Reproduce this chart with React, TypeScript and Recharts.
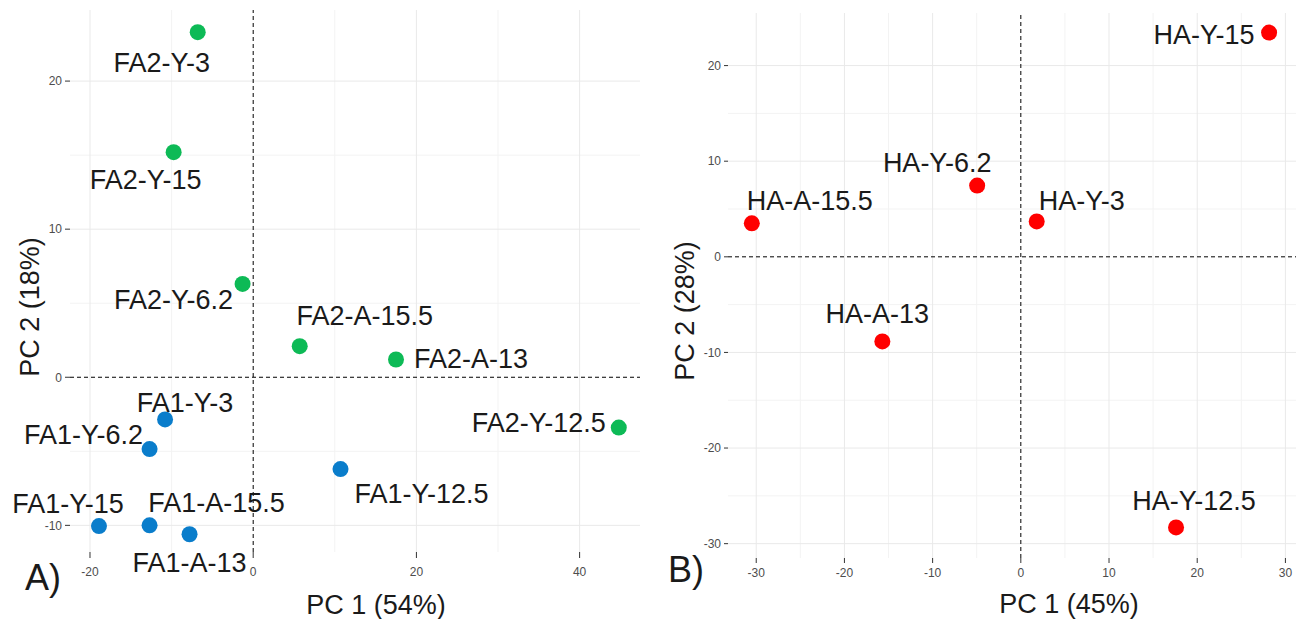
import React from 'react';
import { ScatterChart, Scatter, XAxis, YAxis, ReferenceLine } from 'recharts';

// Panel A – FA samples
const fa2Names = ['FA2-Y-3', 'FA2-Y-15', 'FA2-Y-6.2', 'FA2-A-15.5', 'FA2-A-13', 'FA2-Y-12.5'];
const fa2PC1 = [-6.8, -9.75, -1.3, 5.7, 17.5, 44.8];
const fa2PC2 = [23.3, 15.2, 6.3, 2.1, 1.2, -3.4];

const fa1Names = ['FA1-Y-3', 'FA1-Y-6.2', 'FA1-Y-12.5', 'FA1-Y-15', 'FA1-A-15.5', 'FA1-A-13'];
const fa1PC1 = [-10.8, -12.7, 10.7, -18.9, -12.7, -7.8];
const fa1PC2 = [-2.85, -4.85, -6.2, -10.05, -10.0, -10.6];

// Panel B – HA samples
const haNames = ['HA-Y-15', 'HA-Y-6.2', 'HA-Y-3', 'HA-A-15.5', 'HA-A-13', 'HA-Y-12.5'];
const haPC1 = [28.15, -4.95, 1.8, -30.5, -15.7, 17.6];
const haPC2 = [23.45, 7.45, 3.7, 3.5, -8.85, -28.3];

// axis ticks
const aXTicks = [-20, 0, 20, 40];
const aYTicks = [-10, 0, 10, 20];
const aXMinor = [-10, 10, 30];
const aYMinor = [-5, 5, 15];
const bXTicks = [-30, -20, -10, 0, 10, 20, 30];
const bYTicks = [-30, -20, -10, 0, 10, 20];
const bXMinor = [-25, -15, -5, 5, 15, 25];
const bYMinor = [-25, -15, -5, 5, 15];

// label placement (pixel offsets from point centre)
const labelOffsets: Record<string, [number, number]> = {
  'FA2-Y-3': [-36, 31],
  'FA2-Y-15': [-28, 28],
  'FA2-Y-6.2': [-69, 16],
  'FA2-A-15.5': [65, -30],
  'FA2-A-13': [75, 0],
  'FA2-Y-12.5': [-80, -5],
  'FA1-Y-3': [20, -16],
  'FA1-Y-6.2': [-66, -14],
  'FA1-Y-12.5': [81, 25],
  'FA1-Y-15': [-31, -22],
  'FA1-A-15.5': [67, -22],
  'FA1-A-13': [0, 29],
  'HA-Y-15': [-65, 2],
  'HA-Y-6.2': [-40, -23],
  'HA-Y-3': [45, -20],
  'HA-A-15.5': [58, -22],
  'HA-A-13': [-5, -27],
  'HA-Y-12.5': [18, -26],
};

const build = (names: string[], xs: number[], ys: number[]) =>
  names.map((name, i) => ({ name, pc1: xs[i], pc2: ys[i] }));

const fa2Data = build(fa2Names, fa2PC1, fa2PC2);
const fa1Data = build(fa1Names, fa1PC1, fa1PC2);
const haData = build(haNames, haPC1, haPC2);

const FONT = '"Liberation Sans", Arial, sans-serif';
const tickStyle = { fontSize: 12, fill: '#4d4d4d', fontFamily: FONT };
const MAJOR = '#e9e9e9';
const MINOR = '#f3f3f3';

const makeShape = (color: string) => (props: any) => {
  const { cx, cy, payload } = props;
  const off = labelOffsets[payload.name] || [0, -25];
  return (
    <g>
      <circle cx={cx} cy={cy} r={8} fill={color} />
      <text
        x={cx + off[0]}
        y={cy + off[1]}
        textAnchor="middle"
        dominantBaseline="central"
        fontSize={27}
        fontFamily={FONT}
        fill="#1a1a1a"
      >
        {payload.name}
      </text>
    </g>
  );
};

// grid drawn as reference lines (major + minor, ggplot minimal style)
const gridLines = (prefix: string, xs: number[], ys: number[], color: string) => [
  ...xs.map((v) => <ReferenceLine key={prefix + 'x' + v} x={v} stroke={color} />),
  ...ys.map((v) => <ReferenceLine key={prefix + 'y' + v} y={v} stroke={color} />),
];

const overlay = (text: string, left: number, top: number, size: number, rotate = false) => (
  <div
    style={{
      position: 'absolute',
      left,
      top,
      transform: `translate(-50%, -50%)${rotate ? ' rotate(-90deg)' : ''}`,
      fontSize: size,
      lineHeight: 1,
      whiteSpace: 'nowrap',
      color: '#1a1a1a',
      fontFamily: FONT,
    }}
  >
    {text}
  </div>
);

export default function App() {
  return (
    <div style={{ position: 'absolute', left: 0, top: 0, width: 1296, height: 619, background: '#fff', fontFamily: FONT }}>
      <div style={{ position: 'absolute', left: 0, top: 0 }}>
        <ScatterChart width={648} height={619} margin={{ top: 10, right: 8, left: 0, bottom: 0 }}>
          {gridLines('amin', aXMinor, aYMinor, MINOR)}
          {gridLines('amaj', aXTicks.filter((v) => v !== 0), aYTicks.filter((v) => v !== 0), MAJOR)}
          <XAxis
            type="number"
            dataKey="pc1"
            domain={[-22.45, 47.4]}
            ticks={aXTicks}
            height={67}
            axisLine={false}
            tickLine={{ stroke: '#333' }}
            tickSize={6}
            tickMargin={9}
            tick={tickStyle}
          />
          <YAxis
            type="number"
            dataKey="pc2"
            domain={[-11.8, 24.8]}
            ticks={aYTicks}
            width={70}
            axisLine={false}
            tickLine={{ stroke: '#333' }}
            tickSize={5}
            tickMargin={3}
            tick={tickStyle}
          />
          <ReferenceLine x={0} stroke="#000" strokeDasharray="4 3" />
          <ReferenceLine y={0} stroke="#000" strokeDasharray="4 3" />
          <Scatter data={fa2Data} isAnimationActive={false} shape={makeShape('#0dba56')} />
          <Scatter data={fa1Data} isAnimationActive={false} shape={makeShape('#0a7dcb')} />
        </ScatterChart>
      </div>
      <div style={{ position: 'absolute', left: 648, top: 0 }}>
        <ScatterChart width={648} height={619} margin={{ top: 13, right: 0, left: 0, bottom: 0 }}>
          {gridLines('bmin', bXMinor, bYMinor, MINOR)}
          {gridLines('bmaj', bXTicks.filter((v) => v !== 0), bYTicks.filter((v) => v !== 0), MAJOR)}
          <XAxis
            type="number"
            dataKey="pc1"
            domain={[-33.2, 31.2]}
            ticks={bXTicks}
            height={61}
            axisLine={false}
            tickLine={{ stroke: '#333' }}
            tickSize={5}
            tickMargin={5}
            tick={tickStyle}
          />
          <YAxis
            type="number"
            dataKey="pc2"
            domain={[-31.5, 25.5]}
            ticks={bYTicks}
            width={80}
            axisLine={false}
            tickLine={{ stroke: '#333' }}
            tickSize={4}
            tickMargin={3}
            tick={tickStyle}
          />
          <ReferenceLine x={0} stroke="#000" strokeDasharray="4 3" />
          <ReferenceLine y={0} stroke="#000" strokeDasharray="4 3" />
          <Scatter data={haData} isAnimationActive={false} shape={makeShape('#ff0000')} />
        </ScatterChart>
      </div>
      {overlay('PC 1 (54%)', 376, 605, 27)}
      {overlay('PC 2 (18%)', 30, 307, 27, true)}
      {overlay('A)', 43, 578, 36)}
      {overlay('PC 1 (45%)', 1069, 604, 27)}
      {overlay('PC 2 (28%)', 685, 311, 27, true)}
      {overlay('B)', 686, 570, 36)}
    </div>
  );
}
